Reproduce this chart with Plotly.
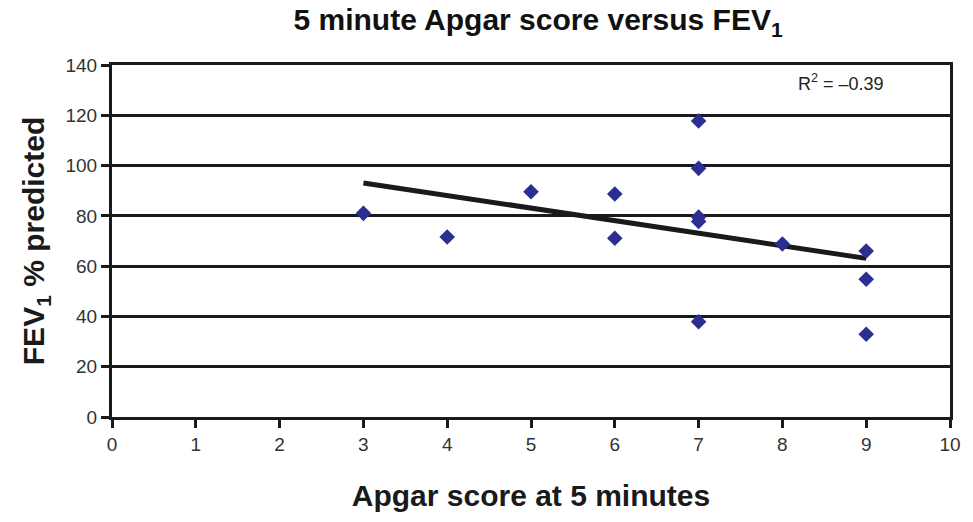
import plotly.graph_objects as go

# Data
apgar = [3, 4, 5, 6, 6, 7, 7, 7, 7, 7, 8, 9, 9, 9]
fev1 = [81, 71.6, 89.6, 88.7, 71.1, 117.7, 98.9, 79.5, 77.8, 37.9, 68.8, 66, 54.8, 32.9]
trend_x = [3, 9]
trend_y = [93.1, 63.1]
x_ticks = list(range(0, 11))
y_ticks = list(range(0, 141, 20))

fig = go.Figure()
fig.add_trace(go.Scatter(x=trend_x, y=trend_y, mode="lines",
                         line=dict(color="#1a1a1a", width=5), showlegend=False, hoverinfo="skip"))
fig.add_trace(go.Scatter(x=apgar, y=fev1, mode="markers",
                         marker=dict(symbol="diamond", size=12, color="#2b2f92"),
                         showlegend=False))

fig.update_layout(
    width=973, height=522,
    margin=dict(l=112, r=18, t=65, b=105),
    paper_bgcolor="white", plot_bgcolor="white",
    font=dict(family="Liberation Sans, Arial, sans-serif", color="#222"),
    title=dict(text="<b>5 minute Apgar score versus FEV<sub>1</sub></b>",
               font=dict(family="Liberation Sans Narrow, Liberation Sans, Arial", size=30, color="#111"),
               x=0.553, xanchor="center", y=0.962, yanchor="middle"),
    xaxis=dict(range=[0, 10], tickvals=x_ticks, showgrid=False, zeroline=False,
               showline=True, linecolor="#1a1a1a", linewidth=3, mirror=True,
               ticks="outside", ticklen=8, tickwidth=3, tickcolor="#1a1a1a",
               tickfont=dict(size=19, color="#333"),
               title=dict(text="<b>Apgar score at 5 minutes</b>", font=dict(size=30, color="#1a1a1a"), standoff=32)),
    yaxis=dict(range=[0, 140], tickvals=y_ticks, showgrid=True, gridcolor="#1a1a1a", gridwidth=3,
               zeroline=False, showline=True, linecolor="#1a1a1a", linewidth=3, mirror=True,
               ticks="outside", ticklen=8, tickwidth=3, tickcolor="#1a1a1a",
               tickfont=dict(size=19, color="#333"),
               title=dict(text="<b>FEV<sub>1</sub> % predicted</b>", font=dict(size=30, color="#1a1a1a"), standoff=12)),
    annotations=[dict(text="R<sup>2</sup> = –0.39", x=0.87, y=133, xref="paper", yref="y",
                      showarrow=False, xanchor="center", yanchor="middle",
                      font=dict(size=18, color="#222"))],
)

fig.write_html("out.html")
